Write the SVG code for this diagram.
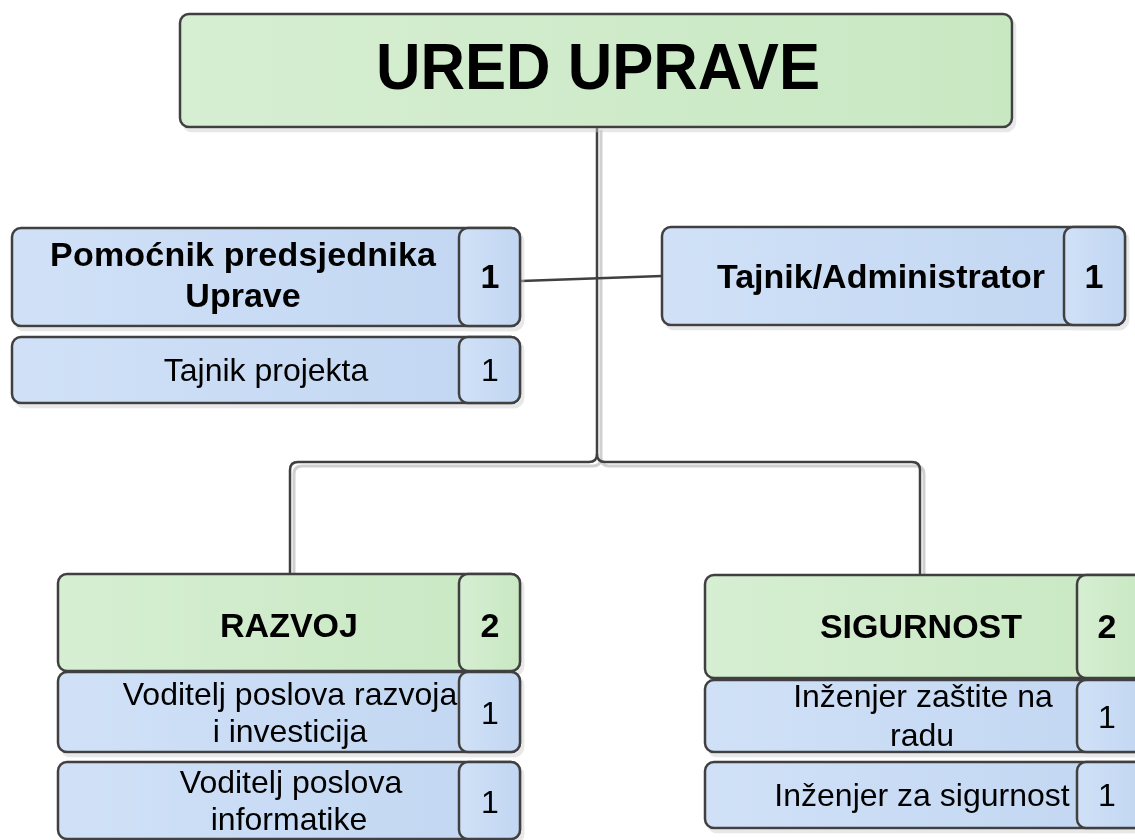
<svg xmlns="http://www.w3.org/2000/svg" width="1135" height="840" viewBox="0 0 1135 840">
<defs>
<linearGradient id="gg" x1="0" y1="0" x2="1" y2="0"><stop offset="0" stop-color="#d6eed2"/><stop offset="1" stop-color="#c8e8c2"/></linearGradient>
<linearGradient id="bg" x1="0" y1="0" x2="1" y2="0"><stop offset="0" stop-color="#d0e1f7"/><stop offset="1" stop-color="#c2d6f2"/></linearGradient>
<filter id="sh" x="-5%" y="-5%" width="110%" height="120%"><feOffset dx="3" dy="4" in="SourceAlpha" result="o"/><feColorMatrix in="o" type="matrix" values="0 0 0 0 0.6 0 0 0 0 0.6 0 0 0 0 0.6 0 0 0 0.45 0" result="c"/><feMerge><feMergeNode in="c"/><feMergeNode in="SourceGraphic"/></feMerge></filter>
</defs>
<style>
.g{fill:url(#gg);stroke:#404040;stroke-width:2.5}
.b{fill:url(#bg);stroke:#404040;stroke-width:2.5}
.t{font-family:"Liberation Sans",Arial,sans-serif;fill:#000;text-anchor:middle;font-size:32px}
.bd{font-weight:bold;font-size:34px}
.c{fill:none;stroke:#404040;stroke-width:2.5}
.cs{fill:none;stroke:#d0d0d0;stroke-width:3}
</style>
<g id="connectors">
<path class="cs" d="M601 130 V458 Q601 466 593 466 H302 Q294 466 294 474 V576"/>
<path class="cs" d="M601 458 Q601 466 609 466 H916 Q924 466 924 474 V578"/>
<path class="c" d="M597 127 V454 Q597 462 589 462 H298 Q290 462 290 470 V574"/>
<path class="c" d="M597 454 Q597 462 605 462 H912 Q920 462 920 470 V576"/>
<path class="c" d="M521 281 L662 276"/>
</g>
<g id="ured" filter="url(#sh)">
<rect class="g" x="180" y="14" width="832" height="113" rx="9"/>
<text class="t bd" x="598" y="89" style="font-size:65px" textLength="444" lengthAdjust="spacingAndGlyphs">URED UPRAVE</text>
</g>
<g id="pomocnik" filter="url(#sh)">
<rect class="b" x="12" y="228" width="508" height="98" rx="9"/>
<rect class="b" x="459" y="228" width="61" height="98" rx="9"/>
<text class="t bd" x="243" y="266" textLength="386">Pomoćnik predsjednika</text>
<text class="t bd" x="243" y="307">Uprave</text>
<text class="t bd" x="490" y="288">1</text>
</g>
<g id="tajnik-projekta" filter="url(#sh)">
<rect class="b" x="12" y="337" width="508" height="66" rx="9"/>
<rect class="b" x="459" y="337" width="61" height="66" rx="9"/>
<text class="t" x="266" y="381">Tajnik projekta</text>
<text class="t" x="490" y="381">1</text>
</g>
<g id="tajnik-admin" filter="url(#sh)">
<rect class="b" x="662" y="227" width="463" height="98" rx="9"/>
<rect class="b" x="1064" y="227" width="61" height="98" rx="9"/>
<text class="t bd" x="881" y="288">Tajnik/Administrator</text>
<text class="t bd" x="1094" y="288">1</text>
</g>
<g id="razvoj" filter="url(#sh)">
<rect class="g" x="58" y="574" width="462" height="97" rx="9"/>
<rect class="g" x="459" y="574" width="61" height="97" rx="9"/>
<text class="t bd" x="289" y="637">RAZVOJ</text>
<text class="t bd" x="490" y="637">2</text>
</g>
<g id="voditelj-razvoja" filter="url(#sh)">
<rect class="b" x="58" y="672" width="462" height="80" rx="9"/>
<rect class="b" x="459" y="672" width="61" height="80" rx="9"/>
<text class="t" x="290" y="705">Voditelj poslova razvoja</text>
<text class="t" x="290" y="742">i investicija</text>
<text class="t" x="490" y="724">1</text>
</g>
<g id="voditelj-informatike" filter="url(#sh)">
<rect class="b" x="58" y="762" width="462" height="77" rx="9"/>
<rect class="b" x="459" y="762" width="61" height="77" rx="9"/>
<text class="t" x="291" y="793">Voditelj poslova</text>
<text class="t" x="289" y="830">informatike</text>
<text class="t" x="490" y="813">1</text>
</g>
<g id="sigurnost" filter="url(#sh)">
<rect class="g" x="705" y="575" width="440" height="103" rx="9"/>
<rect class="g" x="1077" y="575" width="68" height="103" rx="9"/>
<text class="t bd" x="921" y="638">SIGURNOST</text>
<text class="t bd" x="1107" y="638">2</text>
</g>
<g id="inzenjer-zastite" filter="url(#sh)">
<rect class="b" x="705" y="680" width="440" height="72" rx="9"/>
<rect class="b" x="1077" y="680" width="68" height="72" rx="9"/>
<text class="t" x="923" y="707">Inženjer zaštite na</text>
<text class="t" x="922" y="746">radu</text>
<text class="t" x="1107" y="728">1</text>
</g>
<g id="inzenjer-sigurnost" filter="url(#sh)">
<rect class="b" x="705" y="762" width="440" height="66" rx="9"/>
<rect class="b" x="1077" y="762" width="68" height="66" rx="9"/>
<text class="t" x="922" y="806">Inženjer za sigurnost</text>
<text class="t" x="1107" y="806">1</text>
</g>
</svg>
